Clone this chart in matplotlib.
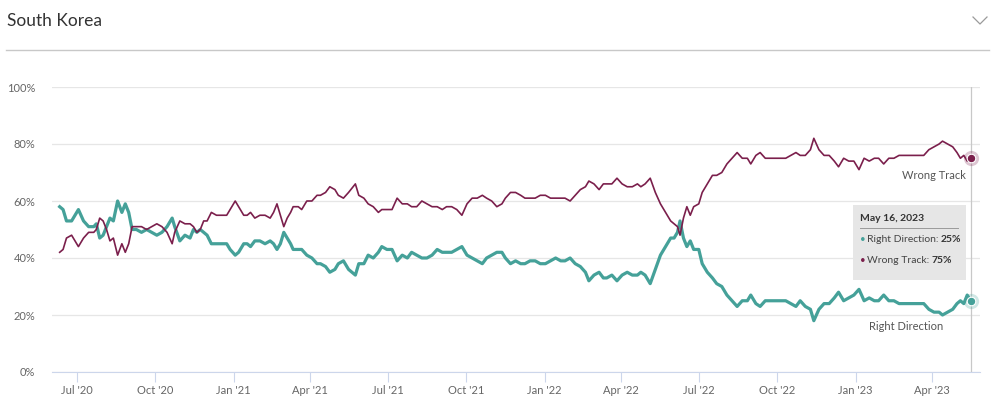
import pandas as pd
import matplotlib
matplotlib.use("Agg")
import matplotlib.pyplot as plt
from matplotlib.lines import Line2D
from matplotlib.patches import Rectangle

# days after 1 Jul 2020 (%)
days = [-20, -16, -12, -6, -2, 2, 8, 14, 20, 23, 27, 31, 35, 39, 43, 48, 53, 57, 61, 65,
        70, 76, 82, 88, 94, 100, 106, 112, 115, 121, 127, 133, 137, 141, 145, 149, 153, 158, 164, 170,
        176, 180, 186, 190, 196, 200, 204, 209, 215, 221, 227, 231, 235, 239, 243, 247, 251, 254, 260, 264,
        270, 276, 282,
        286, 292, 297, 303, 307, 313, 319, 327, 331, 337, 342, 348, 354, 358, 364, 370, 376, 382, 388, 393,
        399, 405, 411, 417, 423, 429, 434, 440, 446, 452, 458, 464, 470, 476, 481, 487, 493, 499, 503, 509,
        515, 521, 526, 532, 538, 544, 550, 556, 562, 568, 573, 579, 585, 591, 597, 601, 607, 613, 618, 622,
        628, 634, 640, 646, 652, 658,
        662, 667, 673, 679, 685, 691, 697, 701, 705, 708, 712, 716, 720, 724, 730, 734, 740, 746, 751, 757,
        763, 769, 775, 781, 787, 791, 797, 802, 808, 814, 820, 826, 832, 838, 844, 849, 855, 861, 865, 871,
        877, 883, 889, 894, 900, 906, 912, 918, 924, 930, 936, 941, 947, 953, 959, 965, 971, 977, 983, 988,
        994, 1000, 1006, 1012, 1016, 1022, 1028, 1033, 1037, 1041, 1045, 1049]

right_direction = [58, 57, 53, 53, 55, 57, 53, 51, 51, 52, 47, 48, 51, 54, 53, 60, 56, 59, 56, 50,
                   50, 49, 50, 49, 48, 49, 51, 54, 51, 46, 48, 47, 50, 49, 50, 49, 48, 45, 45, 45,
                   45, 43, 41, 42, 45, 45, 44, 46, 46, 45, 46, 45, 43, 45, 49, 47, 45, 43, 43, 43,
                   41, 40, 38,
                   38, 37, 35, 36, 38, 39, 36, 34, 38, 38, 41, 40, 42, 44, 43, 43, 39, 41, 40, 42,
                   41, 40, 40, 41, 43, 42, 42, 42, 43, 44, 41, 40, 39, 38, 40, 41, 42, 42, 40, 38,
                   39, 38, 38, 39, 39, 38, 38, 39, 40, 39, 39, 40, 38, 37, 35, 32, 34, 35, 33, 33,
                   34, 32, 34, 35, 34, 34,
                   35, 34, 31, 36, 41, 44, 47, 47, 49, 53, 47, 44, 46, 43, 43, 38, 35, 33, 31, 30,
                   27, 25, 23, 25, 25, 27, 24, 23, 25, 25, 25, 25, 25, 24, 23, 25, 23, 22, 18, 22,
                   24, 24, 26, 28, 25, 26, 27, 29, 25, 26, 25, 25, 27, 25, 25, 24, 24, 24, 24, 24,
                   24, 22, 21, 21, 20, 21, 22, 24, 25, 24, 27, 25]

wrong_track = [42, 43, 47, 48, 46, 44, 47, 49, 49, 50, 54, 53, 50, 46, 47, 41, 45, 42, 45, 51,
               51, 51, 50, 51, 52, 51, 49, 45, 49, 53, 52, 52, 51, 49, 50, 53, 53, 56, 55, 55,
               55, 57, 60, 58, 55, 55, 56, 54, 55, 55, 54, 56, 59, 55, 51, 54, 56, 58, 58, 57,
               60, 60, 62,
               62, 63, 65, 64, 62, 61, 63, 66, 62, 61, 59, 58, 56, 57, 57, 57, 61, 59, 59, 58,
               58, 60, 59, 58, 58, 57, 58, 58, 57, 55, 59, 61, 61, 62, 61, 60, 58, 59, 61, 63,
               63, 62, 61, 61, 61, 62, 62, 61, 61, 61, 61, 60, 62, 64, 65, 67, 66, 64, 66, 66,
               66, 68, 66, 65, 65, 66,
               65, 66, 68, 63, 59, 56, 53, 52, 51, 48, 54, 58, 55, 58, 59, 63, 66, 69, 69, 70,
               73, 75, 77, 75, 75, 73, 76, 77, 75, 75, 75, 75, 75, 76, 77, 76, 76, 78, 82, 78,
               76, 76, 74, 72, 75, 74, 74, 71, 75, 74, 75, 75, 73, 75, 75, 76, 76, 76, 76, 76,
               76, 78, 79, 80, 81, 80, 79, 77, 75, 76, 74, 75]

start = pd.Timestamp("2020-07-01")
dates = start + pd.to_timedelta(days, unit="D")
last = dates[-1]

teal = "#45a199"
maroon = "#7b1f4c"
grey_text = "#666666"

plt.rcParams["font.family"] = ["Lato", "DejaVu Sans"]

fig = plt.figure(figsize=(10, 4), dpi=100)
ax = fig.add_axes([0.052, 0.07, 0.928, 0.7125])

ax.plot(dates, right_direction, color=teal, lw=2.3, solid_joinstyle="round", zorder=3)
ax.plot(dates, wrong_track, color=maroon, lw=1.2, solid_joinstyle="round", zorder=3)

# hover line and end markers
ax.axvline(last, color="#c8c8c8", lw=0.9, zorder=2)
for val, col in [(right_direction[-1], teal), (wrong_track[-1], maroon)]:
    ax.scatter([last], [val], s=120, color=col, alpha=0.25, lw=0, zorder=4)
    ax.scatter([last], [val], s=38, color=col, edgecolor="white", lw=0.8, zorder=5)

ax.set_xlim(start + pd.Timedelta(days=-29), start + pd.Timedelta(days=1060))
ax.set_ylim(0, 100)

yticks = [0, 20, 40, 60, 80, 100]
ax.set_yticks(yticks)
ax.set_yticklabels([f"{v}%" for v in yticks])
ax.yaxis.grid(True, color="#e6e6e6", lw=0.9)
ax.set_axisbelow(True)

xticks = pd.date_range("2020-07-01", "2023-04-01", freq="QS")
ax.set_xticks(xticks)
ax.set_xticklabels([d.strftime("%b '%y") for d in xticks])

for s in ["top", "right", "left"]:
    ax.spines[s].set_visible(False)
ax.spines["bottom"].set_color("#ccd6eb")
ax.tick_params(axis="x", length=7, color="#ccd6eb", labelsize=8, labelcolor=grey_text, pad=2)
ax.tick_params(axis="y", length=0, labelsize=8, labelcolor=grey_text, pad=12)

# series labels at the end
fig.text(0.966, 1 - 176 / 400, "Wrong Track", ha="right", va="center", fontsize=8, color="#555555")
fig.text(0.943, 1 - 326 / 400, "Right Direction", ha="right", va="center", fontsize=8, color="#555555")

# header
fig.text(0.007, 1 - 21 / 400, "South Korea", fontsize=12.5, color="#333333", va="center")
fig.add_artist(Line2D([0.006, 0.989], [1 - 50 / 400] * 2, color="#c8c8c8", lw=1))
fig.add_artist(Line2D([0.973, 0.980, 0.987], [1 - 17 / 400, 1 - 24 / 400, 1 - 17 / 400],
                      color="#9a9a9a", lw=0.9))

# tooltip
box = Rectangle((0.853, 1 - 280 / 400), 0.113, 75 / 400, transform=fig.transFigure,
                facecolor="#e6e6e6", edgecolor="none", zorder=10)
fig.add_artist(box)
fig.text(0.860, 1 - 218 / 400, "May 16, 2023", fontsize=7.5, fontweight="bold", color="#333333",
         va="center", zorder=11)
fig.add_artist(Line2D([0.860, 0.958], [1 - 228 / 400] * 2, color="#9a9a9a", lw=0.7, zorder=11))
rows = [("Right Direction: ", f"{right_direction[-1]}%", teal, 242),
        ("Wrong Track: ", f"{wrong_track[-1]}%", maroon, 263)]
for name, val, col, ypix in rows:
    fig.text(0.860, 1 - ypix / 400, "\u2022", fontsize=7, color=col, va="baseline", zorder=11)
    t = fig.text(0.867, 1 - ypix / 400, name, fontsize=7.5, color="#444444", va="baseline", zorder=11)
    fig.add_artist(matplotlib.text.Annotation(val, xy=(1, 0), xycoords=t, fontsize=7.5,
                                              fontweight="bold", color="#333333", va="bottom",
                                              zorder=11))

fig.savefig("out.png", dpi=100)
